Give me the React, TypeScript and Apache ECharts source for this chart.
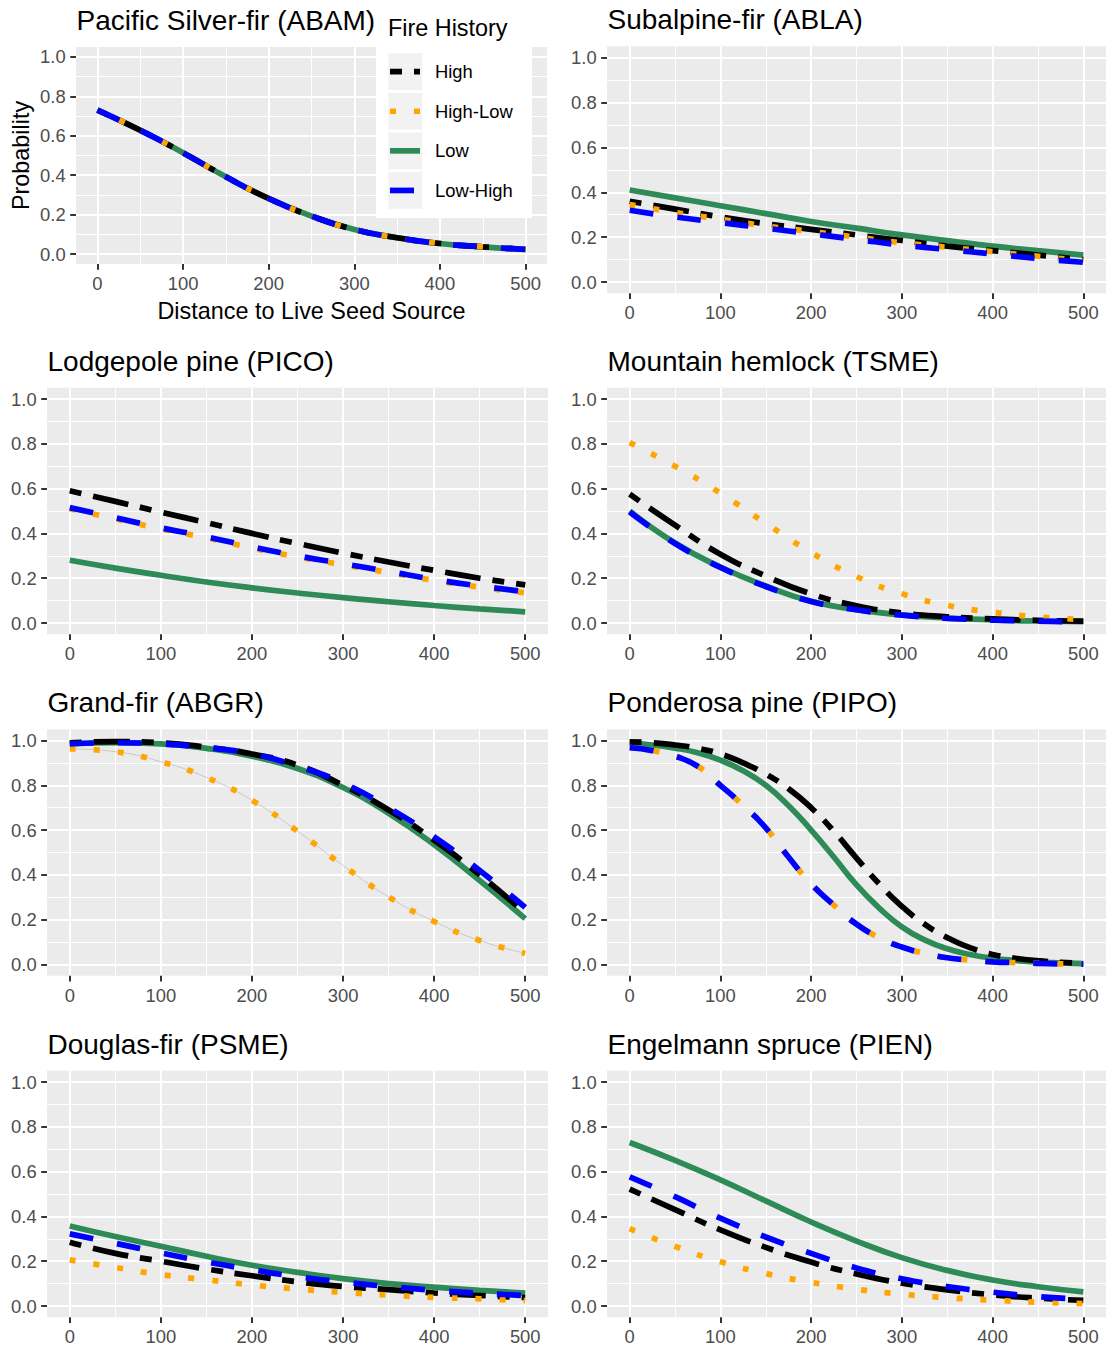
import React, { useEffect, useRef } from 'react';
import * as echarts from 'echarts';

const FONT = 'Liberation Sans, Arial, Helvetica, sans-serif';

// distance to live seed source (x values of the curves)
const DIST = [0, 50, 100, 150, 200, 250, 300, 350, 400, 450, 500];
const DIST_FINE = [0, 25, 50, 75, 100, 125, 150, 175, 200, 225, 250, 275, 300, 325, 350, 375, 400, 425, 450, 475, 500];
const X_TICKS = [0, 100, 200, 300, 400, 500];
const X_MINOR = [50, 150, 250, 350, 450];
const Y_TICKS = [0, 0.2, 0.4, 0.6, 0.8, 1.0];
const Y_MINOR = [0.1, 0.3, 0.5, 0.7, 0.9];
const FIRE_HISTORY = ['High', 'High-Low', 'Low', 'Low-High'];
const X_TITLE = 'Distance to Live Seed Source';
const Y_TITLE = 'Probability';
const LEGEND_TITLE = 'Fire History';

// Pacific Silver-fir (ABAM)
const ABAM_HIGH = [0.73, 0.628, 0.514, 0.392, 0.282, 0.193, 0.125, 0.083, 0.054, 0.037, 0.024];
const ABAM_HIGHLOW = [0.73, 0.628, 0.514, 0.392, 0.282, 0.193, 0.125, 0.083, 0.054, 0.037, 0.024];
const ABAM_LOW = [0.73, 0.628, 0.514, 0.392, 0.282, 0.193, 0.125, 0.083, 0.054, 0.037, 0.024];
const ABAM_LOWHIGH = [0.73, 0.628, 0.514, 0.392, 0.282, 0.193, 0.125, 0.083, 0.054, 0.037, 0.024];
// Subalpine-fir (ABLA)
const ABLA_HIGH = [0.36, 0.325, 0.29, 0.26, 0.235, 0.21, 0.185, 0.16, 0.14, 0.12, 0.1];
const ABLA_HIGHLOW = [0.345, 0.31, 0.28, 0.25, 0.225, 0.2, 0.175, 0.155, 0.135, 0.115, 0.095];
const ABLA_LOW = [0.41, 0.375, 0.34, 0.305, 0.27, 0.24, 0.21, 0.185, 0.16, 0.14, 0.12];
const ABLA_LOWHIGH = [0.32, 0.29, 0.265, 0.24, 0.215, 0.19, 0.165, 0.145, 0.125, 0.105, 0.088];
// Lodgepole pine (PICO)
const PICO_HIGH = [0.59, 0.543, 0.495, 0.448, 0.4, 0.355, 0.312, 0.272, 0.235, 0.2, 0.17];
const PICO_HIGHLOW = [0.51, 0.465, 0.42, 0.38, 0.335, 0.295, 0.26, 0.225, 0.19, 0.16, 0.135];
const PICO_LOW = [0.28, 0.245, 0.213, 0.183, 0.157, 0.134, 0.113, 0.095, 0.078, 0.063, 0.05];
const PICO_LOWHIGH = [0.515, 0.47, 0.425, 0.385, 0.34, 0.3, 0.265, 0.23, 0.195, 0.165, 0.14];
// Mountain hemlock (TSME)
const TSME_HIGH = [0.575, 0.437, 0.307, 0.21, 0.13, 0.077, 0.045, 0.028, 0.018, 0.012, 0.008];
const TSME_HIGHLOW = [0.805, 0.7, 0.58, 0.445, 0.315, 0.207, 0.131, 0.079, 0.048, 0.027, 0.016];
const TSME_LOW = [0.5, 0.357, 0.25, 0.165, 0.097, 0.06, 0.036, 0.022, 0.014, 0.009, 0.006];
const TSME_LOWHIGH = [0.495, 0.355, 0.248, 0.163, 0.096, 0.059, 0.035, 0.021, 0.013, 0.008, 0.005];
// Grand-fir (ABGR)
const ABGR_HIGH = [0.99, 0.995, 0.99, 0.97, 0.94, 0.89, 0.8, 0.69, 0.555, 0.4, 0.23];
const ABGR_HIGHLOW = [0.963, 0.95, 0.905, 0.835, 0.733, 0.595, 0.442, 0.302, 0.192, 0.107, 0.05];
const ABGR_LOW = [0.985, 0.99, 0.985, 0.965, 0.93, 0.875, 0.79, 0.675, 0.535, 0.375, 0.205];
const ABGR_LOWHIGH = [0.985, 0.99, 0.985, 0.968, 0.94, 0.885, 0.81, 0.7, 0.57, 0.42, 0.255];
// Ponderosa pine (PIPO) – read every 25 m, the curves are steep
const PIPO_HIGH = [0.994, 0.99, 0.98, 0.965, 0.94, 0.9, 0.85, 0.785, 0.7, 0.595, 0.475, 0.36, 0.26, 0.18, 0.12, 0.075, 0.045, 0.028, 0.017, 0.01, 0.006];
const PIPO_HIGHLOW = [0.968, 0.955, 0.93, 0.885, 0.8, 0.71, 0.61, 0.48, 0.36, 0.265, 0.18, 0.12, 0.078, 0.05, 0.03, 0.02, 0.012, 0.008, 0.005, 0.003, 0.002];
const PIPO_LOW = [0.988, 0.98, 0.966, 0.945, 0.912, 0.865, 0.8, 0.71, 0.6, 0.48, 0.355, 0.252, 0.168, 0.11, 0.07, 0.045, 0.028, 0.018, 0.011, 0.007, 0.004];
const PIPO_LOWHIGH = [0.968, 0.955, 0.93, 0.885, 0.8, 0.71, 0.61, 0.48, 0.36, 0.265, 0.18, 0.12, 0.078, 0.05, 0.03, 0.02, 0.012, 0.008, 0.005, 0.003, 0.002];
// Douglas-fir (PSME)
const PSME_HIGH = [0.285, 0.235, 0.2, 0.165, 0.135, 0.108, 0.087, 0.073, 0.058, 0.047, 0.038];
const PSME_HIGHLOW = [0.206, 0.172, 0.14, 0.117, 0.094, 0.076, 0.061, 0.049, 0.038, 0.032, 0.024];
const PSME_LOW = [0.357, 0.31, 0.267, 0.222, 0.182, 0.15, 0.122, 0.1, 0.084, 0.07, 0.058];
const PSME_LOWHIGH = [0.322, 0.28, 0.237, 0.197, 0.162, 0.131, 0.107, 0.087, 0.07, 0.057, 0.047];
// Engelmann spruce (PIEN)
const PIEN_HIGH = [0.522, 0.43, 0.34, 0.262, 0.196, 0.143, 0.102, 0.072, 0.05, 0.035, 0.025];
const PIEN_HIGHLOW = [0.345, 0.266, 0.198, 0.145, 0.106, 0.075, 0.053, 0.037, 0.026, 0.017, 0.011];
const PIEN_LOW = [0.73, 0.65, 0.563, 0.469, 0.375, 0.29, 0.216, 0.159, 0.116, 0.086, 0.063];
const PIEN_LOWHIGH = [0.577, 0.488, 0.392, 0.308, 0.235, 0.17, 0.122, 0.087, 0.062, 0.042, 0.03];

const PANELS = [
  { title: 'Pacific Silver-fir (ABAM)', x: DIST, data: { 'High': ABAM_HIGH, 'High-Low': ABAM_HIGHLOW, 'Low': ABAM_LOW, 'Low-High': ABAM_LOWHIGH } },
  { title: 'Subalpine-fir (ABLA)', x: DIST, data: { 'High': ABLA_HIGH, 'High-Low': ABLA_HIGHLOW, 'Low': ABLA_LOW, 'Low-High': ABLA_LOWHIGH } },
  { title: 'Lodgepole pine (PICO)', x: DIST, data: { 'High': PICO_HIGH, 'High-Low': PICO_HIGHLOW, 'Low': PICO_LOW, 'Low-High': PICO_LOWHIGH } },
  { title: 'Mountain hemlock (TSME)', x: DIST, data: { 'High': TSME_HIGH, 'High-Low': TSME_HIGHLOW, 'Low': TSME_LOW, 'Low-High': TSME_LOWHIGH } },
  { title: 'Grand-fir (ABGR)', x: DIST, data: { 'High': ABGR_HIGH, 'High-Low': ABGR_HIGHLOW, 'Low': ABGR_LOW, 'Low-High': ABGR_LOWHIGH }, guide: true },
  { title: 'Ponderosa pine (PIPO)', x: DIST_FINE, data: { 'High': PIPO_HIGH, 'High-Low': PIPO_HIGHLOW, 'Low': PIPO_LOW, 'Low-High': PIPO_LOWHIGH } },
  { title: 'Douglas-fir (PSME)', x: DIST, data: { 'High': PSME_HIGH, 'High-Low': PSME_HIGHLOW, 'Low': PSME_LOW, 'Low-High': PSME_LOWHIGH } },
  { title: 'Engelmann spruce (PIEN)', x: DIST, data: { 'High': PIEN_HIGH, 'High-Low': PIEN_HIGHLOW, 'Low': PIEN_LOW, 'Low-High': PIEN_LOWHIGH } },
];

// panel rectangles (layout only)
const LAYOUT = [
  { left: 76, top: 47, width: 471, height: 217 },
  { left: 607, top: 46.3, width: 499, height: 247 },
  { left: 47, top: 387.8, width: 501, height: 246.4 },
  { left: 607, top: 387.8, width: 499, height: 246.4 },
  { left: 47, top: 729.3, width: 501, height: 246.4 },
  { left: 607, top: 729.3, width: 499, height: 246.4 },
  { left: 47, top: 1070.8, width: 501, height: 246.4 },
  { left: 607, top: 1070.8, width: 499, height: 246.4 },
];

const STYLE: Record<string, { color: string; dash: number[] | null }> = {
  'High': { color: '#000000', dash: [12, 12, 36, 12] },
  'High-Low': { color: '#FFA500', dash: [6, 18] },
  'Low': { color: '#2E8B57', dash: null },
  'Low-High': { color: '#0000FF', dash: [24, 24] },
};
const DRAW_ORDER = ['Low', 'High', 'High-Low', 'Low-High'];
const LINE_W = 5.7;
const SMOOTH = 0.5;

function buildOption() {
  const grid: any[] = [];
  const xAxis: any[] = [];
  const yAxis: any[] = [];
  const series: any[] = [];
  const title: any[] = [];

  PANELS.forEach((p, i) => {
    const L = LAYOUT[i];
    const first = i === 0;
    grid.push({ left: L.left, top: L.top, width: L.width, height: L.height, show: true, backgroundColor: '#EBEBEB', borderWidth: 0 });
    title.push({
      text: p.title, left: L.left + 0.5, top: L.top - 27.5 - 13, padding: 0, z: 20,
      textStyle: { fontSize: 28, fontWeight: 'normal', color: '#000000', fontFamily: FONT },
    });
    xAxis.push({
      type: 'value', gridIndex: i, min: -25, max: 525, position: 'bottom',
      axisLine: { show: false, onZero: false },
      axisTick: { show: true, length: 5.75, lineStyle: { color: '#333333', width: 2 }, customValues: X_TICKS },
      axisLabel: { show: true, customValues: X_TICKS, margin: 10.35, color: '#4D4D4D', fontSize: 18.4, fontFamily: FONT, formatter: (v: number) => String(v) },
      splitLine: { show: true, lineStyle: { color: '#FFFFFF', width: 2 } },
      name: first ? X_TITLE : '', nameLocation: 'middle', nameGap: 35,
      nameTextStyle: { fontSize: 23.4, color: '#000000', fontFamily: FONT },
    });
    xAxis.push({
      type: 'value', gridIndex: i, min: -25, max: 525, position: 'top',
      axisLine: { show: false, onZero: false },
      axisTick: { show: false, customValues: X_MINOR },
      axisLabel: { show: false, customValues: X_MINOR },
      splitLine: { show: true, lineStyle: { color: '#FFFFFF', width: 1 } },
    });
    yAxis.push({
      type: 'value', gridIndex: i, min: -0.05, max: 1.05, position: 'left',
      axisLine: { show: false, onZero: false },
      axisTick: { show: true, length: 5.75, lineStyle: { color: '#333333', width: 2 }, customValues: Y_TICKS },
      axisLabel: { show: true, customValues: Y_TICKS, margin: 10.35, color: '#4D4D4D', fontSize: 18.4, fontFamily: FONT, formatter: (v: number) => v.toFixed(1) },
      splitLine: { show: true, lineStyle: { color: '#FFFFFF', width: 2 } },
      name: first ? Y_TITLE : '', nameLocation: 'middle', nameGap: 44,
      nameTextStyle: { fontSize: 23.4, color: '#000000', fontFamily: FONT },
    });
    yAxis.push({
      type: 'value', gridIndex: i, min: -0.05, max: 1.05, position: 'right',
      axisLine: { show: false, onZero: false },
      axisTick: { show: false, customValues: Y_MINOR },
      axisLabel: { show: false, customValues: Y_MINOR },
      splitLine: { show: true, lineStyle: { color: '#FFFFFF', width: 1 } },
    });

    DRAW_ORDER.forEach((key) => {
      const vals = (p.data as any)[key] as number[];
      const st = STYLE[key];
      const pts = p.x.map((d, k) => [d, vals[k]]);
      if (key === 'High-Low' && (p as any).guide) {
        series.push({
          type: 'line', name: key + ' (guide)', xAxisIndex: 2 * i, yAxisIndex: 2 * i,
          data: pts, symbol: 'none', smooth: SMOOTH, silent: true,
          lineStyle: { color: '#C8C8C8', width: 1 },
        });
      }
      series.push({
        type: 'line', name: key, xAxisIndex: 2 * i, yAxisIndex: 2 * i,
        data: pts, symbol: 'none', showSymbol: false, smooth: SMOOTH, silent: true,
        lineStyle: { color: st.color, width: LINE_W, type: st.dash ? st.dash : 'solid', cap: 'butt' },
      });
    });
  });

  // legend drawn as graphic (ggplot-style keys)
  const graphic: any[] = [];
  graphic.push({ type: 'rect', z: 1, shape: { x: 376, y: 12, width: 156, height: 206 }, style: { fill: '#FFFFFF' } });
  graphic.push({ type: 'text', z: 101, x: 388, y: 28, style: { text: LEGEND_TITLE, fontSize: 23.4, fontFamily: FONT, fill: '#000000', align: 'left', verticalAlign: 'middle' } });
  FIRE_HISTORY.forEach((key, k) => {
    const yTop = 53.3 + k * 39.6;
    const yc = yTop + 18.35;
    const st = STYLE[key];
    graphic.push({ type: 'rect', z: 101, shape: { x: 388.3, y: yTop, width: 34, height: 36.7 }, style: { fill: '#F2F2F2' } });
    graphic.push({
      type: 'line', z: 102, shape: { x1: 390, y1: yc, x2: 420, y2: yc },
      style: { stroke: st.color, lineWidth: LINE_W, lineDash: st.dash || null, lineCap: 'butt' },
    });
    graphic.push({ type: 'text', z: 102, x: 435, y: yc, style: { text: key, fontSize: 18.4, fontFamily: FONT, fill: '#000000', align: 'left', verticalAlign: 'middle' } });
  });

  return { animation: false, backgroundColor: '#FFFFFF', title, grid, xAxis, yAxis, series, graphic };
}

export default function App() {
  const ref = useRef<HTMLDivElement>(null);
  useEffect(() => {
    const chart = echarts.init(ref.current as HTMLDivElement, null, { renderer: 'svg' });
    chart.setOption(buildOption() as any);
    return () => chart.dispose();
  }, []);
  return <div ref={ref} style={{ position: 'absolute', left: 0, top: 0, width: 1109, height: 1346, background: '#FFFFFF' }} />;
}
